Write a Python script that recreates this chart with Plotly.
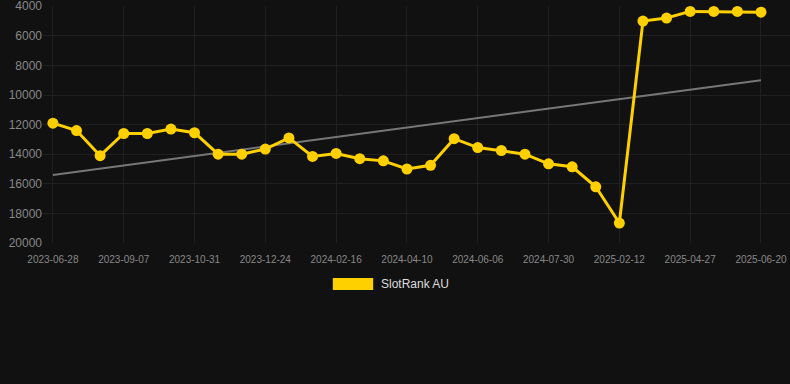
import plotly.graph_objects as go

dates = [
    "2023-06-28", "2023-07-22", "2023-08-15", "2023-09-07", "2023-09-25", "2023-10-13",
    "2023-10-31", "2023-11-18", "2023-12-06", "2023-12-24", "2024-01-11", "2024-01-29",
    "2024-02-16", "2024-03-05", "2024-03-23", "2024-04-10", "2024-04-29", "2024-05-18",
    "2024-06-06", "2024-06-24", "2024-07-12", "2024-07-30", "2024-10-04", "2024-12-09",
    "2025-02-12", "2025-03-08", "2025-04-02", "2025-04-27", "2025-05-15", "2025-06-02",
    "2025-06-20",
]
ranks = [
    11900, 12400, 14100, 12600, 12600, 12300,
    12550, 14000, 14000, 13650, 12900, 14150,
    13950, 14300, 14450, 15000, 14750, 12950,
    13550, 13750, 14000, 14650, 14850, 16200,
    18650, 5000, 4800, 4350, 4350, 4350,
    4400,
]
trend_x = [dates[0], dates[-1]]
trend_y = [15400, 9000]
y_ticks = [4000, 6000, 8000, 10000, 12000, 14000, 16000, 18000, 20000]
y_tick_labels = ["4000", "6000", "8000", "10000", "12000", "14000", "16000", "18000", "20000"]
series_name = "SlotRank AU"

BG = "#111111"
GRID = "#202020"
GOLD = "#FFD000"

fig = go.Figure()
fig.add_trace(go.Scatter(
    x=trend_x, y=trend_y, mode="lines",
    line=dict(color="#777777", width=2),
    showlegend=False, hoverinfo="skip",
))
fig.add_trace(go.Scatter(
    x=dates, y=ranks, mode="lines+markers", name=series_name,
    line=dict(color=GOLD, width=3),
    marker=dict(color=GOLD, size=11),
    cliponaxis=False, showlegend=False,
))

fig.update_layout(
    width=790, height=384,
    paper_bgcolor=BG, plot_bgcolor=BG,
    margin=dict(l=43, r=0, t=6, b=141),
    font=dict(family="Arial, Liberation Sans, sans-serif", color="#888888"),
    showlegend=False,
    xaxis=dict(
        type="category", categoryorder="array", categoryarray=dates,
        range=[-0.42, 31.23],
        tickmode="array", tickvals=dates[::3], ticktext=dates[::3],
        showgrid=True, gridcolor=GRID, gridwidth=1,
        zeroline=False, showline=False,
        ticks="outside", ticklen=7, tickcolor=BG,
        tickfont=dict(size=10, color="#888888"),
    ),
    yaxis=dict(
        range=[20000, 3985],
        tickmode="array", tickvals=y_ticks, ticktext=y_tick_labels,
        showgrid=True, gridcolor=GRID, gridwidth=1,
        zeroline=False, showline=False,
        ticks="", ticklabelstandoff=0, ticklabeloverflow="allow",
        tickfont=dict(size=12, color="#888888"),
    ),
    shapes=[dict(
        type="rect", xref="paper", yref="paper",
        x0=0.388, x1=0.442, y0=-0.198, y1=-0.148,
        fillcolor=GOLD, line=dict(width=0),
    )],
    annotations=[dict(
        text=series_name, xref="paper", yref="paper",
        x=0.4498, y=-0.173, xanchor="left", yanchor="middle",
        showarrow=False, font=dict(size=12, color="#dddddd"),
    )],
)

fig.write_html(
    "out.html",
    config={"displayModeBar": False},
    post_script="document.body.style.margin='0';document.body.style.background='#111111';",
)
